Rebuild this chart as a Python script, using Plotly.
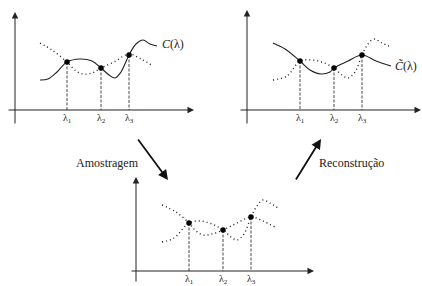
import plotly.graph_objects as go

# ---- data (diagram coordinates, pixel-like frame 422 x 286) ----
# Panel 1 (original signal)
p1_solid_x = [40, 48, 57, 67, 80, 92, 101, 109, 115, 121, 129, 136, 143, 150, 157]
p1_solid_y = [80, 79, 72, 62, 59, 61, 68, 75, 78, 72, 55, 44, 40, 44, 46]
p1_dot_x = [40, 52, 67, 76, 83, 92, 101, 114, 129, 141, 153]
p1_dot_y = [43, 50, 62, 71, 74, 73, 68, 62, 54, 59, 66]
p1_samples_x = [67, 101, 129]
p1_samples_y = [62, 68, 55]

# Panel 2 (reconstruction)
p2_solid_x = [273, 285, 300, 310, 321, 330, 334, 348, 362, 376, 391]
p2_solid_y = [43, 49, 61, 70, 74, 72, 68, 61, 55, 61, 66]
p2_dot_x = [273, 287, 300, 311, 322, 334, 342, 348, 355, 362, 368, 374, 382, 391]
p2_dot_y = [80, 76, 61, 60, 62, 68, 75, 78, 72, 55, 44, 39, 43, 47]
p2_samples_x = [300, 334, 362]
p2_samples_y = [61, 68, 55]

# Panel 3 (samples)
p3_a_x = [162, 174, 189, 200, 212, 223, 231, 237, 244, 251, 257, 263, 270, 278]
p3_a_y = [242, 238, 223, 221, 224, 230, 237, 240, 234, 217, 206, 200, 203, 208]
p3_b_x = [162, 176, 189, 196, 203, 212, 223, 237, 251, 263, 275]
p3_b_y = [205, 212, 223, 231, 235, 234, 230, 223, 217, 221, 227]
p3_samples_x = [189, 223, 251]
p3_samples_y = [223, 230, 217]

lambda_labels = ["λ<sub>1</sub>", "λ<sub>2</sub>", "λ<sub>3</sub>"]
label_C = "<i>C</i>(λ)"
label_Ct = "<i>C̃</i>(λ)"
label_sample = "Amostragem"
label_recon = "Reconstrução"

# axes: (x_tail, y_tail, x_tip, y_tip)
axes_arrows = [
    (15, 125, 15, 12), (7, 110, 194, 110),
    (247, 125, 247, 10), (239, 110, 421, 110),
    (136, 283, 136, 177), (130, 271, 314, 271),
]
flow_arrows = [(137, 138, 168, 180), (295, 181, 321, 139)]
axis_y = [110, 110, 271]

FONT = "Liberation Serif"
DOT = "1px,3px"
fig = go.Figure()

def curve(x, y, dash):
    fig.add_trace(go.Scatter(x=x, y=y, mode="lines", line_shape="spline",
                             line=dict(color="#222", width=1.1 if dash == "solid" else 1.4,
                                       dash=dash, smoothing=1.0),
                             hoverinfo="skip", showlegend=False))

def samples(xs, ys, base, label_y):
    for xv, yv in zip(xs, ys):
        fig.add_trace(go.Scatter(x=[xv, xv], y=[yv, base], mode="lines",
                                 line=dict(color="#333", width=0.9, dash="3px,1.5px"),
                                 hoverinfo="skip", showlegend=False))
    fig.add_trace(go.Scatter(x=xs, y=ys, mode="markers",
                             marker=dict(color="black", size=5.5),
                             hoverinfo="skip", showlegend=False))
    for xv, lab in zip(xs, lambda_labels):
        fig.add_annotation(x=xv, y=label_y, text=lab, showarrow=False,
                           font=dict(family=FONT, size=10, color="#222"))

curve(p1_solid_x, p1_solid_y, "solid")
curve(p1_dot_x, p1_dot_y, DOT)
samples(p1_samples_x, p1_samples_y, axis_y[0], 118)

curve(p2_solid_x, p2_solid_y, "solid")
curve(p2_dot_x, p2_dot_y, DOT)
samples(p2_samples_x, p2_samples_y, axis_y[1], 118)

curve(p3_a_x, p3_a_y, DOT)
curve(p3_b_x, p3_b_y, DOT)
samples(p3_samples_x, p3_samples_y, axis_y[2], 279)

for (x0, y0, x1, y1) in axes_arrows:
    fig.add_annotation(x=x1, y=y1, ax=x0, ay=y0, xref="x", yref="y", axref="x", ayref="y",
                       text="", showarrow=True, arrowhead=2, arrowsize=1.3, arrowwidth=1,
                       arrowcolor="#222")
for (x0, y0, x1, y1) in flow_arrows:
    fig.add_annotation(x=x1, y=y1, ax=x0, ay=y0, xref="x", yref="y", axref="x", ayref="y",
                       text="", showarrow=True, arrowhead=2, arrowsize=1.1, arrowwidth=1.8,
                       arrowcolor="#111")

fig.add_annotation(x=160, y=44, text=label_C, showarrow=False, xanchor="left",
                   font=dict(family=FONT, size=12, color="#222"))
fig.add_annotation(x=393, y=66, text=label_Ct, showarrow=False, xanchor="left",
                   font=dict(family=FONT, size=12, color="#222"))
fig.add_annotation(x=107, y=163, text=label_sample, showarrow=False,
                   font=dict(family=FONT, size=12, color="#222"))
fig.add_annotation(x=317, y=163, text=label_recon, showarrow=False, xanchor="left",
                   font=dict(family=FONT, size=12, color="#222"))

fig.update_layout(
    width=422, height=286, margin=dict(l=0, r=0, t=0, b=0),
    paper_bgcolor="white", plot_bgcolor="white",
    xaxis=dict(range=[0, 422], visible=False, fixedrange=True),
    yaxis=dict(range=[286, 0], visible=False, fixedrange=True),
)
fig.write_html("out.html", config={"displayModeBar": False},
               post_script="document.body.style.margin='0px';document.body.style.overflow='hidden';")
